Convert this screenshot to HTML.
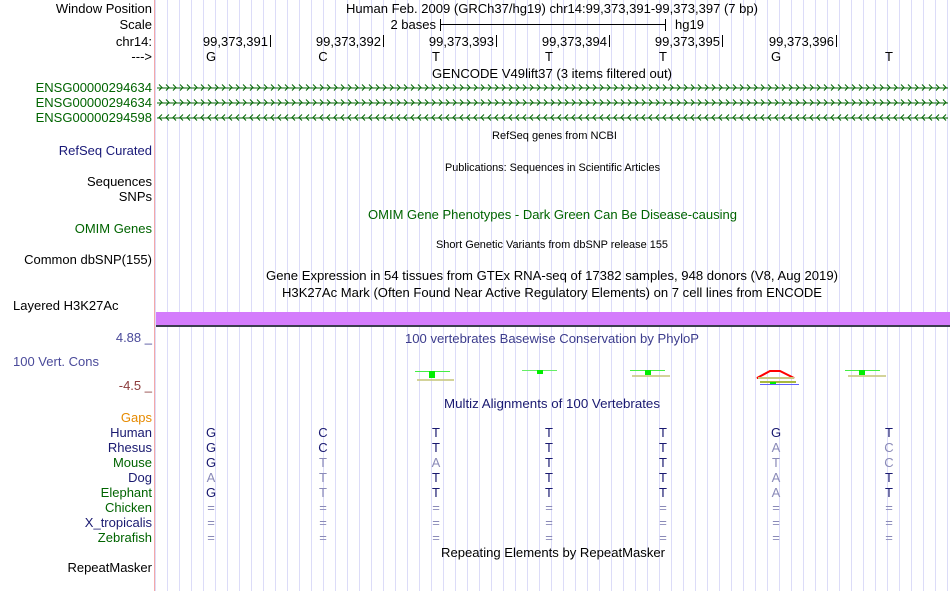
<!DOCTYPE html>
<html><head><meta charset="utf-8"><style>
html,body{margin:0;padding:0;background:#fff;}
svg{display:block;font-family:"Liberation Sans",sans-serif;}
</style></head><body>
<svg width="950" height="591" viewBox="0 0 950 591" xmlns="http://www.w3.org/2000/svg">
<defs>
<pattern id="grid" x="167" y="0" width="12" height="591" patternUnits="userSpaceOnUse">
<rect x="0" y="0" width="1" height="591" fill="#dcdcf8"/>
</pattern>
<pattern id="fw" x="157" y="84" width="7" height="8" patternUnits="userSpaceOnUse">
<path d="M2 0.5 L5 3.5 L2 6.5" fill="none" stroke="#006400" stroke-width="1"/>
</pattern>
<pattern id="rv" x="157" y="84" width="7" height="8" patternUnits="userSpaceOnUse">
<path d="M5 0.5 L2 3.5 L5 6.5" fill="none" stroke="#006400" stroke-width="1"/>
</pattern>
</defs>
<rect x="155" y="0" width="795" height="591" fill="url(#grid)"/>
<rect x="154" y="0" width="1" height="591" fill="#f4a8a8"/>

<g font-size="13" text-anchor="end">
<text x="152" y="13" fill="#000">Window Position</text>
<text x="152" y="29" fill="#000">Scale</text>
<text x="152" y="46" fill="#000">chr14:</text>
<text x="152" y="61" fill="#000">---&gt;</text>
<text x="152" y="92" fill="#006400">ENSG00000294634</text>
<text x="152" y="107" fill="#006400">ENSG00000294634</text>
<text x="152" y="122" fill="#006400">ENSG00000294598</text>
<text x="152" y="155" fill="#191978">RefSeq Curated</text>
<text x="152" y="186" fill="#000">Sequences</text>
<text x="152" y="201" fill="#000">SNPs</text>
<text x="152" y="233" fill="#006400">OMIM Genes</text>
<text x="152" y="264" fill="#000">Common dbSNP(155)</text>
<text x="152" y="342" fill="#4a4a9a">4.88 _</text>
<text x="152" y="390" fill="#8c3c3c">-4.5 _</text>
<text x="152" y="422" fill="#e68a00">Gaps</text>
<text x="152" y="437" fill="#191970">Human</text>
<text x="152" y="452" fill="#191970">Rhesus</text>
<text x="152" y="467" fill="#006400">Mouse</text>
<text x="152" y="482" fill="#191970">Dog</text>
<text x="152" y="497" fill="#006400">Elephant</text>
<text x="152" y="512" fill="#006400">Chicken</text>
<text x="152" y="527" fill="#191970">X_tropicalis</text>
<text x="152" y="542" fill="#006400">Zebrafish</text>
<text x="152" y="572" fill="#000">RepeatMasker</text>
</g>
<text x="13" y="310" font-size="13" fill="#000">Layered H3K27Ac</text>
<text x="13" y="366" font-size="13" fill="#4a4a9a">100 Vert. Cons</text>

<text x="346" y="13" font-size="13" textLength="412" lengthAdjust="spacingAndGlyphs">Human Feb. 2009 (GRCh37/hg19)   chr14:99,373,391-99,373,397 (7 bp)</text>
<text x="436" y="29" font-size="13" text-anchor="end">2 bases</text>
<rect x="440" y="19" width="1" height="12" fill="#000"/>
<rect x="440" y="24" width="226" height="1" fill="#000"/>
<rect x="665" y="19" width="1" height="12" fill="#000"/>
<text x="675" y="29" font-size="13">hg19</text>

<g font-size="13" text-anchor="end">
<text x="268" y="46">99,373,391</text>
<text x="381" y="46">99,373,392</text>
<text x="494" y="46">99,373,393</text>
<text x="607" y="46">99,373,394</text>
<text x="720" y="46">99,373,395</text>
<text x="834" y="46">99,373,396</text>
</g>
<g fill="#000">
<rect x="270" y="35" width="1" height="12"/><rect x="383" y="35" width="1" height="12"/>
<rect x="496" y="35" width="1" height="12"/><rect x="609" y="35" width="1" height="12"/>
<rect x="722" y="35" width="1" height="12"/><rect x="836" y="35" width="1" height="12"/>
</g>
<g font-size="13" text-anchor="middle">
<text x="211" y="61">G</text><text x="323" y="61">C</text><text x="436" y="61">T</text>
<text x="549" y="61">T</text><text x="663" y="61">T</text><text x="776" y="61">G</text><text x="889" y="61">T</text>
</g>
<text x="432" y="78" font-size="13" textLength="240" lengthAdjust="spacingAndGlyphs">GENCODE V49lift37 (3 items filtered out)</text>

<rect x="157" y="87.5" width="791" height="1" fill="#006400"/>
<rect x="157" y="84" width="791" height="8" fill="url(#fw)"/>
<rect x="157" y="102.5" width="791" height="1" fill="#006400"/>
<g transform="translate(0,15)"><rect x="157" y="84" width="791" height="8" fill="url(#fw)"/></g>
<rect x="157" y="117.5" width="791" height="1" fill="#006400"/>
<g transform="translate(0,30)"><rect x="157" y="84" width="791" height="8" fill="url(#rv)"/></g>

<text x="492" y="139" font-size="11" textLength="125" lengthAdjust="spacingAndGlyphs">RefSeq genes from NCBI</text>
<text x="445" y="171" font-size="11" textLength="215" lengthAdjust="spacingAndGlyphs">Publications: Sequences in Scientific Articles</text>
<text x="368" y="219" font-size="13" fill="#006400" textLength="369" lengthAdjust="spacingAndGlyphs">OMIM Gene Phenotypes - Dark Green Can Be Disease-causing</text>
<text x="436" y="248" font-size="11" textLength="232" lengthAdjust="spacingAndGlyphs">Short Genetic Variants from dbSNP release 155</text>
<text x="266" y="280" font-size="13" textLength="572" lengthAdjust="spacingAndGlyphs">Gene Expression in 54 tissues from GTEx RNA-seq of 17382 samples, 948 donors (V8, Aug 2019)</text>
<text x="282" y="297" font-size="13" textLength="540" lengthAdjust="spacingAndGlyphs">H3K27Ac Mark (Often Found Near Active Regulatory Elements) on 7 cell lines from ENCODE</text>

<rect x="156" y="312" width="794" height="13" fill="#d47cfc"/>
<rect x="156" y="325" width="794" height="2" fill="#3c3c50"/>

<text x="405" y="343" font-size="13" fill="#3c3c8c" textLength="294" lengthAdjust="spacingAndGlyphs">100 vertebrates Basewise Conservation by PhyloP</text>

<g>
<rect x="415" y="371" width="35" height="1" fill="#44ee44"/><rect x="429" y="371" width="6" height="7" fill="#00ee00"/>
<rect x="417" y="379" width="37" height="2" fill="#c8c880" opacity="0.8"/>
<rect x="522" y="370" width="35" height="1" fill="#66ee66"/><rect x="537" y="370" width="6" height="4" fill="#00ee00"/>
<rect x="630" y="370" width="35" height="1" fill="#44ee44"/><rect x="645" y="370" width="6" height="5" fill="#00ee00"/>
<rect x="632" y="375" width="38" height="2" fill="#c8c880" opacity="0.8"/>
<path d="M757 378 L770 371 L780 371 L794 378 Z" fill="none" stroke="#ff0000" stroke-width="2"/>
<rect x="758" y="377" width="36" height="2" fill="#c8c880"/>
<rect x="760" y="381" width="36" height="2" fill="#a8b840"/>
<rect x="770" y="382" width="6" height="3" fill="#00ee00"/>
<rect x="760" y="384" width="39" height="1" fill="#6060ff"/>
<rect x="845" y="370" width="35" height="1" fill="#44ee44"/><rect x="859" y="370" width="6" height="5" fill="#00ee00"/>
<rect x="848" y="375" width="38" height="2" fill="#c8c880" opacity="0.8"/>
</g>

<text x="444" y="408" font-size="13" fill="#191970" textLength="216" lengthAdjust="spacingAndGlyphs">Multiz Alignments of 100 Vertebrates</text>

<g font-size="13" text-anchor="middle" fill="#191970">
<text x="211" y="437">G</text><text x="323" y="437">C</text><text x="436" y="437">T</text><text x="549" y="437">T</text><text x="663" y="437">T</text><text x="776" y="437">G</text><text x="889" y="437">T</text>
<text x="211" y="452">G</text><text x="323" y="452">C</text><text x="436" y="452">T</text><text x="549" y="452">T</text><text x="663" y="452">T</text><text x="776" y="452" fill="#8a8ab8">A</text><text x="889" y="452" fill="#8a8ab8">C</text>
<text x="211" y="467">G</text><text x="323" y="467" fill="#8a8ab8">T</text><text x="436" y="467" fill="#8a8ab8">A</text><text x="549" y="467">T</text><text x="663" y="467">T</text><text x="776" y="467" fill="#8a8ab8">T</text><text x="889" y="467" fill="#8a8ab8">C</text>
<text x="211" y="482" fill="#8a8ab8">A</text><text x="323" y="482" fill="#8a8ab8">T</text><text x="436" y="482">T</text><text x="549" y="482">T</text><text x="663" y="482">T</text><text x="776" y="482" fill="#8a8ab8">A</text><text x="889" y="482">T</text>
<text x="211" y="497">G</text><text x="323" y="497" fill="#8a8ab8">T</text><text x="436" y="497">T</text><text x="549" y="497">T</text><text x="663" y="497">T</text><text x="776" y="497" fill="#8a8ab8">A</text><text x="889" y="497">T</text>
</g>
<g font-size="13" text-anchor="middle" fill="#8a8ab8">
<text x="211" y="512">=</text><text x="323" y="512">=</text><text x="436" y="512">=</text><text x="549" y="512">=</text><text x="663" y="512">=</text><text x="776" y="512">=</text><text x="889" y="512">=</text>
<text x="211" y="527">=</text><text x="323" y="527">=</text><text x="436" y="527">=</text><text x="549" y="527">=</text><text x="663" y="527">=</text><text x="776" y="527">=</text><text x="889" y="527">=</text>
<text x="211" y="542">=</text><text x="323" y="542">=</text><text x="436" y="542">=</text><text x="549" y="542">=</text><text x="663" y="542">=</text><text x="776" y="542">=</text><text x="889" y="542">=</text>
</g>
<text x="441" y="557" font-size="13" textLength="224" lengthAdjust="spacingAndGlyphs">Repeating Elements by RepeatMasker</text>
</svg>
</body></html>
